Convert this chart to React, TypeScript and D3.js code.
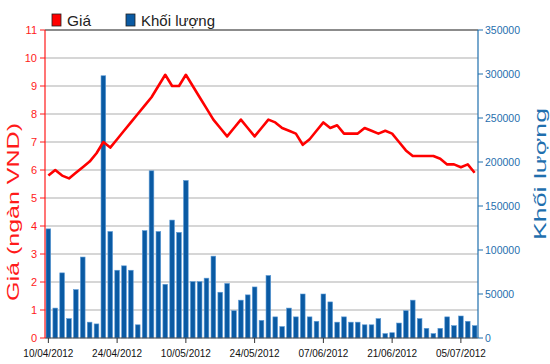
import React, { useRef, useEffect } from 'react';
import * as d3 from 'd3';
import { select } from 'd3';

// giá đóng cửa (ngàn VND), mỗi phiên một giá trị
const prices = [
  5.8, 6.0, 5.8, 5.7, 5.9, 6.1, 6.3, 6.6, 7.0, 6.8,
  7.1, 7.4, 7.7, 8.0, 8.3, 8.6, 9.0, 9.4, 9.0, 9.0,
  9.4, 9.0, 8.6, 8.2, 7.8, 7.5, 7.2, 7.5, 7.8, 7.5,
  7.2, 7.5, 7.8, 7.7, 7.5, 7.4, 7.3, 6.9, 7.1, 7.4,
  7.7, 7.5, 7.6, 7.3, 7.3, 7.3, 7.5, 7.4, 7.3, 7.4,
  7.3, 7.0, 6.7, 6.5, 6.5, 6.5, 6.5, 6.4, 6.2, 6.2,
  6.1, 6.2, 5.9,
];

// khối lượng khớp lệnh
const volumes = [
  124000, 34000, 74000, 22000, 55000, 92000, 18000, 16000, 298000, 121000,
  77000, 82000, 77000, 15000, 122000, 190000, 121000, 61000, 134000, 120000,
  179000, 64000, 64000, 68000, 93000, 52000, 62000, 31000, 43000, 49000,
  58000, 20000, 71000, 24000, 13000, 34000, 24000, 50000, 24000, 19000,
  50000, 41000, 18000, 24000, 18000, 18000, 15000, 15000, 22000, 5000,
  6000, 17000, 31000, 43000, 22000, 11000, 5000, 11000, 24000, 14000,
  25000, 19000, 14000,
];

// nhãn trục x, cứ 10 phiên một nhãn
const dateLabels = [
  '10/04/2012', '24/04/2012', '10/05/2012', '24/05/2012',
  '07/06/2012', '21/06/2012', '05/07/2012',
];

const priceTicks = [0, 1, 2, 3, 4, 5, 6, 7, 8, 9, 10, 11];
const volumeTicks = [0, 50000, 100000, 150000, 200000, 250000, 300000, 350000];

const FONT = "'Liberation Sans', Arial, sans-serif";

function App() {
  const ref = useRef<SVGSVGElement>(null);

  useEffect(() => {
    const svg = select(ref.current);
    ref.current!.querySelectorAll('*').forEach(n => n.remove());

    const left = 45, right = 478, top = 30, bottom = 338;
    const red = '#ff1a1a';
    const blue = '#1f6fae';

    const x = d3
      .scaleBand<number>()
      .domain(d3.range(prices.length))
      .range([left, right])
      .paddingInner(0.32)
      .paddingOuter(0.15);

    const yPrice = d3.scaleLinear().domain([0, 11]).range([bottom, top]);
    const yVol = d3.scaleLinear().domain([0, 350000]).range([bottom, top]);

    svg.append('rect').attr('width', 550).attr('height', 364).attr('fill', '#fff');

    // lưới ngang
    svg
      .append('g')
      .selectAll('line')
      .data(priceTicks.filter(t => t > 0 && t < 11))
      .join('line')
      .attr('x1', left)
      .attr('x2', right)
      .attr('y1', d => yPrice(d))
      .attr('y2', d => yPrice(d))
      .attr('stroke', '#c8c8c8')
      .attr('stroke-width', 1.5);

    svg
      .append('line')
      .attr('x1', left)
      .attr('x2', right)
      .attr('y1', yPrice(11))
      .attr('y2', yPrice(11))
      .attr('stroke', '#666')
      .attr('stroke-width', 1.5);

    // cột khối lượng
    svg
      .append('g')
      .selectAll('rect')
      .data(volumes)
      .join('rect')
      .attr('x', (d, i) => x(i)!)
      .attr('width', x.bandwidth())
      .attr('y', d => yVol(d))
      .attr('height', d => bottom - yVol(d))
      .attr('fill', '#0a5aa3')
      .attr('stroke', '#5d9bd6')
      .attr('stroke-width', 0.6);

    // đường giá
    const line = d3
      .line<number>()
      .x((d, i) => x(i)! + x.bandwidth() / 2)
      .y(d => yPrice(d));

    svg
      .append('path')
      .datum(prices)
      .attr('d', line)
      .attr('fill', 'none')
      .attr('stroke', '#ff0000')
      .attr('stroke-width', 2.6)
      .attr('stroke-linejoin', 'round');

    // trục x
    svg
      .append('line')
      .attr('x1', left)
      .attr('x2', right)
      .attr('y1', bottom)
      .attr('y2', bottom)
      .attr('stroke', '#444')
      .attr('stroke-width', 1.2);

    const xTicks = svg
      .append('g')
      .selectAll('g')
      .data(dateLabels)
      .join('g')
      .attr('transform', (d, i) => `translate(${x(i * 10)! + x.bandwidth() / 2},0)`);

    xTicks
      .append('line')
      .attr('y1', bottom)
      .attr('y2', bottom + 5)
      .attr('stroke', '#333');

    xTicks
      .append('text')
      .attr('y', bottom + 19)
      .attr('text-anchor', 'middle')
      .attr('font-family', FONT)
      .attr('font-size', 11.5)
      .attr('textLength', 50)
      .attr('lengthAdjust', 'spacingAndGlyphs')
      .attr('fill', '#111')
      .text(d => d);

    // trục trái (giá)
    svg
      .append('line')
      .attr('x1', left)
      .attr('x2', left)
      .attr('y1', top)
      .attr('y2', bottom)
      .attr('stroke', red)
      .attr('stroke-width', 1.2);

    const yl = svg
      .append('g')
      .selectAll('g')
      .data(priceTicks)
      .join('g')
      .attr('transform', d => `translate(0,${yPrice(d)})`);

    yl.append('line').attr('x1', left - 5).attr('x2', left).attr('stroke', red);
    yl.append('text')
      .attr('x', left - 8)
      .attr('dy', '0.35em')
      .attr('text-anchor', 'end')
      .attr('font-family', FONT)
      .attr('font-size', 11)
      .attr('fill', red)
      .text(d => d);

    // trục phải (khối lượng)
    svg
      .append('line')
      .attr('x1', right)
      .attr('x2', right)
      .attr('y1', top)
      .attr('y2', bottom)
      .attr('stroke', blue)
      .attr('stroke-width', 1.2);

    const yr = svg
      .append('g')
      .selectAll('g')
      .data(volumeTicks)
      .join('g')
      .attr('transform', d => `translate(0,${yVol(d)})`);

    yr.append('line').attr('x1', right).attr('x2', right + 5).attr('stroke', blue);
    yr.append('text')
      .attr('x', right + 7)
      .attr('dy', '0.35em')
      .attr('font-family', FONT)
      .attr('font-size', 10.5)
      .attr('fill', blue)
      .text(d => d);

    // tiêu đề trục
    svg
      .append('text')
      .attr('transform', 'translate(19,212) rotate(-90)')
      .attr('text-anchor', 'middle')
      .attr('font-family', FONT)
      .attr('font-size', 16)
      .attr('textLength', 178)
      .attr('lengthAdjust', 'spacingAndGlyphs')
      .attr('fill', red)
      .text('Giá (ngàn VND)');

    svg
      .append('text')
      .attr('transform', 'translate(546,174) rotate(-90)')
      .attr('text-anchor', 'middle')
      .attr('font-family', FONT)
      .attr('font-size', 17)
      .attr('textLength', 132)
      .attr('lengthAdjust', 'spacingAndGlyphs')
      .attr('fill', blue)
      .text('Khối lượng');

    // chú giải
    const legend = [
      { label: 'Giá', color: '#ff0000', x: 52, w: 24 },
      { label: 'Khối lượng', color: '#0a5aa3', x: 126, w: 74 },
    ];
    const lg = svg
      .append('g')
      .selectAll('g')
      .data(legend)
      .join('g')
      .attr('transform', d => `translate(${d.x},0)`);

    lg.append('rect')
      .attr('y', 14)
      .attr('width', 9)
      .attr('height', 12)
      .attr('fill', d => d.color)
      .attr('stroke', '#222')
      .attr('stroke-width', 0.8);
    lg.append('text')
      .attr('x', 15)
      .attr('y', 26)
      .attr('font-family', FONT)
      .attr('font-size', 15)
      .attr('textLength', d => d.w)
      .attr('lengthAdjust', 'spacingAndGlyphs')
      .attr('fill', '#222')
      .text(d => d.label);
  }, []);

  return (
    <svg
      width="550"
      height="364"
      ref={ref}
      style={{ position: 'absolute', left: 0, top: 0 }}
    ></svg>
  );
}

export default App;
